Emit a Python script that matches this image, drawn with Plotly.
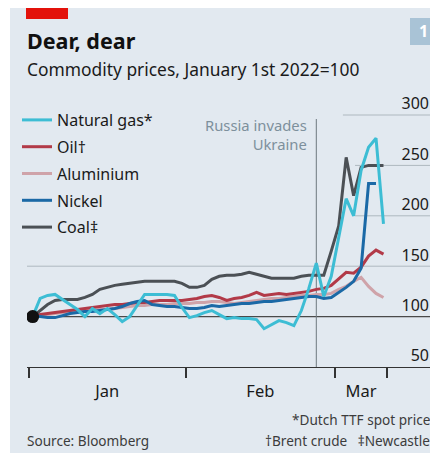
import plotly.graph_objects as go

# Business-day index from the start of January 2022
day_index = list(range(48))

natural_gas = [100, 118, 121, 122, 117, 112, 107, 100, 108, 103, 108, 102, 95, 100, 111, 122,
               122, 122, 122, 121, 109, 99, 101, 104, 106, 102, 98, 99, 98, 98, 97, 88,
               92, 96, 94, 91, 106, 128, 153, 120, 140, 180, 217, 200, 245, 268, 277, 192]
oil = [100, 102, 103, 104, 105, 106, 107, 108, 109, 110, 111, 112, 112, 113, 114, 114,
       115, 116, 116, 116, 116, 117, 118, 120, 121, 119, 116, 118, 119, 121, 124, 121,
       122, 123, 122, 123, 124, 125, 127, 128, 131, 138, 144, 143, 149, 160, 166, 162]
aluminium = [100, 101, 102, 103, 104, 104, 105, 106, 106, 107, 107, 108, 109, 110, 111, 111,
             112, 112, 112, 113, 113, 113, 114, 114, 115, 115, 114, 113, 114, 115, 116, 117,
             118, 118, 119, 120, 121, 121, 122, 122, 123, 127, 130, 135, 139, 130, 123, 119]
nickel = [100, 100, 99, 99, 101, 103, 104, 105, 105, 106, 107, 108, 110, 113, 115, 116,
          112, 111, 110, 110, 109, 108, 108, 109, 111, 110, 111, 112, 113, 113, 114, 115,
          115, 116, 117, 118, 119, 120, 120, 118, 119, 124, 129, 135, 148, 232, 232, None]
coal = [100, 106, 112, 116, 117, 117, 117, 119, 122, 127, 129, 131, 132, 133, 134, 135,
        135, 135, 135, 135, 133, 129, 129, 131, 137, 140, 141, 141, 142, 144, 142, 140,
        138, 138, 138, 138, 140, 141, 141, 141, 165, 190, 258, 220, 248, 250, 250, 250]

month_labels = ["Jan", "Feb", "Mar"]
month_label_pos = [10, 30.5, 44]
month_bounds = [-0.5, 20.5, 40.5, 47.5]
y_ticks = [50, 100, 150, 200, 250, 300]
invasion_index = 38

FONT = "Noto Sans"
BG = "#e2e9f0"
TXT = "#1a1a1a"

series = [
    # name, values, color, legend rank
    ("Aluminium", aluminium, "#cfa3a9", 3),
    ("Oil†", oil, "#b23a48", 2),
    ("Nickel", nickel, "#1b69a6", 4),
    ("Coal‡", coal, "#4b5055", 5),
    ("Natural gas*", natural_gas, "#3dbdd4", 1),
]

fig = go.Figure()
for name, vals, color, rank in series:
    fig.add_trace(go.Scatter(
        x=day_index, y=vals, mode="lines", name=name,
        line=dict(color=color, width=3), legendrank=rank, legendgroup=name,
        connectgaps=False, hoverinfo="skip",
    ))

fig.add_trace(go.Scatter(
    x=[day_index[0]], y=[natural_gas[0]], mode="markers", showlegend=False,
    marker=dict(color="#111111", size=13), hoverinfo="skip",
))

# page offset of the figure div (browser body margin)
OFF = 8
# plot area in page pixels (top extended above the 300 line so its label fits)
PL, PR, PT, PB = 27, 432, 86, 367
Y_PX_PER_UNIT = 1.008
Y_MAX = 50 + (PB - PT) / Y_PX_PER_UNIT
W, H = 438 - OFF, 457 - OFF
L, R, T, B = PL - OFF, W - (PR - OFF), PT - OFF, H - (PB - OFF)
pw, ph = PR - PL, PB - PT


def px(xp):
    return (xp - PL) / pw


def py(yp):
    return (PB - yp) / ph


shapes = [
    dict(type="rect", xref="paper", yref="paper", x0=px(10), x1=px(440), y0=py(453), y1=py(5),
         fillcolor=BG, line=dict(width=0), layer="below"),
    dict(type="rect", xref="paper", yref="paper", x0=px(26), x1=px(68), y0=py(19), y1=py(5),
         fillcolor="#e3120b", line=dict(width=0)),
    dict(type="rect", xref="paper", yref="paper", x0=px(410), x1=px(436), y0=py(45), y1=py(18),
         fillcolor="#a9c3d6", line=dict(width=0)),
]
grid_starts = {300: 0.78, 250: 0.81, 200: 0.81, 150: 0.0}
for v, x0 in grid_starts.items():
    shapes.append(dict(type="line", xref="paper", yref="y", x0=x0, x1=1, y0=v, y1=v,
                       line=dict(color="#aeb8bf", width=1), layer="below"))
shapes.append(dict(type="line", xref="paper", yref="y", x0=0, x1=1, y0=100, y1=100,
                   line=dict(color="#4a4a4a", width=1.3), layer="below"))
shapes.append(dict(type="line", xref="x", yref="y", x0=invasion_index, x1=invasion_index,
                   y0=50, y1=296, line=dict(color="#6e787f", width=1), layer="below"))

annotations = [
    dict(text="<b>Dear, dear</b>", xref="paper", yref="paper", x=px(25), y=py(41),
         xanchor="left", yanchor="middle", showarrow=False,
         font=dict(family=FONT, size=21.5, color="#111111")),
    dict(text="Commodity prices, January 1st 2022=100", xref="paper", yref="paper",
         x=px(25), y=py(69), xanchor="left", yanchor="middle", showarrow=False,
         font=dict(family=FONT, size=17.4, color=TXT)),
    dict(text="<b>1</b>", xref="paper", yref="paper", x=px(423), y=py(31.5),
         xanchor="center", yanchor="middle", showarrow=False,
         font=dict(family=FONT, size=16, color="white")),
    dict(text="Russia invades<br>Ukraine", xref="x", yref="paper",
         x=(309 - 32.7) / 7.46, y=py(113), xanchor="right", yanchor="top", align="right",
         showarrow=False, font=dict(family=FONT, size=14.8, color="#7d909c")),
    dict(text="*Dutch TTF spot price", xref="paper", yref="paper", x=1, y=py(419),
         xanchor="right", yanchor="middle", showarrow=False,
         font=dict(family=FONT, size=13.6, color="#3c3c3c")),
    dict(text="†Brent crude   ‡Newcastle", xref="paper", yref="paper", x=1, y=py(440),
         xanchor="right", yanchor="middle", showarrow=False,
         font=dict(family=FONT, size=13.6, color="#3c3c3c")),
    dict(text="Source: Bloomberg", xref="paper", yref="paper", x=px(25), y=py(440),
         xanchor="left", yanchor="middle", showarrow=False,
         font=dict(family=FONT, size=13.6, color="#3c3c3c")),
]

fig.update_layout(
    width=W, height=H,
    margin=dict(l=L, r=R, t=T, b=B, pad=0),
    paper_bgcolor="white", plot_bgcolor=BG,
    font=dict(family=FONT, color=TXT),
    shapes=shapes, annotations=annotations,
    showlegend=True,
    legend=dict(x=px(17), y=py(103), xanchor="left", yanchor="top",
                bgcolor="rgba(0,0,0,0)", font=dict(family=FONT, size=16, color=TXT),
                tracegroupgap=3, traceorder="grouped"),
    xaxis=dict(range=[-0.76, 53.5], showgrid=False, zeroline=False,
               showline=True, linecolor="#333333", linewidth=1.3,
               tickmode="array", tickvals=month_label_pos, ticktext=month_labels,
               ticks="outside", ticklen=9, tickcolor="rgba(0,0,0,0)",
               tickfont=dict(family=FONT, size=16.5, color=TXT),
               minor=dict(tickmode="array", tickvals=month_bounds, ticks="outside",
                          ticklen=10, tickwidth=1.5, tickcolor="#333333")),
    yaxis=dict(range=[50, Y_MAX], side="right", showgrid=False, zeroline=False,
               tickmode="array", tickvals=y_ticks, ticks="",
               ticklabelposition="inside top",
               tickfont=dict(family=FONT, size=16, color=TXT)),
)

fig.write_html("out.html")
